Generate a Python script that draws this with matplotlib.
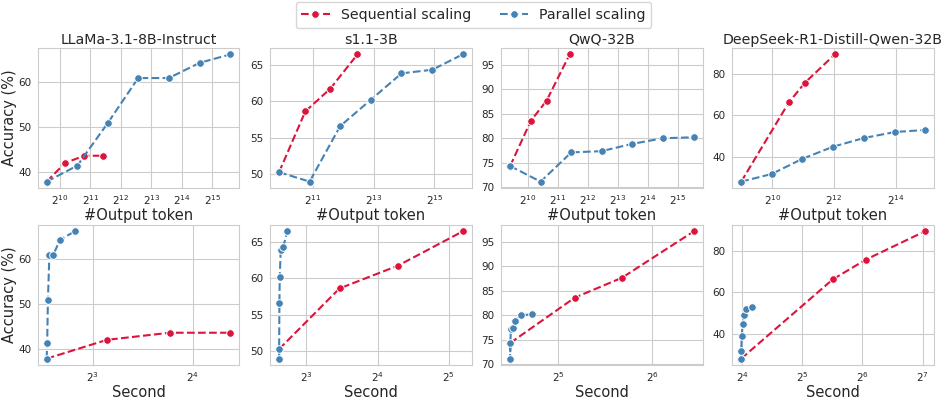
import matplotlib
matplotlib.use('Agg')
import matplotlib.pyplot as plt
import matplotlib.ticker as mticker
import seaborn as sns

sns.set_style('whitegrid')
plt.rcParams['font.family'] = ['DejaVu Sans']

models = ['LLaMa-3.1-8B-Instruct', 's1.1-3B', 'QwQ-32B', 'DeepSeek-R1-Distill-Qwen-32B']

# sequential scaling: tokens, seconds, accuracy
seq_tok = [[755, 1150, 1780, 2720],
           [945, 1722, 3040, 5670],
           [685, 1105, 1585, 2700],
           [509, 1489, 2135, 4180]]
seq_sec = [[5.81, 8.82, 13.65, 20.8],
           [6.13, 11.05, 19.5, 36.7],
           [22.5, 36.2, 51.3, 87.0],
           [15.8, 45.5, 66.5, 131.5]]
seq_acc = [[37.8, 42.0, 43.6, 43.6],
           [50.3, 58.6, 61.7, 66.4],
           [74.3, 83.6, 87.7, 97.2],
           [27.9, 66.3, 75.8, 89.5]]

# parallel scaling
par_tok = [[755, 1520, 3030, 6070, 12200, 24600, 49500],
           [945, 1897, 3822, 7700, 15500, 31400, 62800],
           [685, 1380, 2800, 5630, 11400, 23200, 47000],
           [509, 1010, 2006, 4010, 8020, 16040, 31640]]
par_sec = [[5.81, 5.83, 5.86, 5.92, 6.08, 6.37, 7.06],
           [6.13, 6.13, 6.15, 6.17, 6.23, 6.38, 6.65],
           [22.5, 22.5, 22.6, 22.9, 23.4, 24.4, 26.5],
           [15.8, 15.8, 15.9, 16.06, 16.3, 16.75, 17.8]]
par_acc = [[37.8, 41.4, 50.9, 61.0, 61.0, 64.4, 66.3],
           [50.3, 49.0, 56.6, 60.2, 63.8, 64.3, 66.4],
           [74.3, 71.1, 77.1, 77.35, 78.85, 80.0, 80.2],
           [27.9, 31.6, 38.9, 44.8, 49.0, 51.9, 52.9]]

tok_ticks = [[10, 11, 12, 13, 14, 15], [11, 13, 15], [10, 11, 12, 13, 14, 15], [10, 12, 14]]
sec_ticks = [[3, 4], [3, 4, 5], [5, 6], [4, 5, 6, 7]]
y_ticks = [[40, 50, 60], [50, 55, 60, 65], [70, 75, 80, 85, 90, 95], [40, 60, 80]]

red = '#DC143C'
blue = '#4682B4'
style = dict(linestyle='--', marker='o', markersize=5.5, linewidth=1.5,
             markeredgecolor='white', markeredgewidth=0.7)

fig = plt.figure(figsize=(9.47, 4.0), dpi=100)
lefts = [0.0396, 0.285, 0.529, 0.773]
w, h = 0.2133, 0.35

for i in range(4):
    for row in range(2):
        bottom = 0.53 if row == 0 else 0.0875
        ax = fig.add_axes([lefts[i], bottom, w, h])
        if row == 0:
            xs, xp, ticks, xlabel = seq_tok[i], par_tok[i], tok_ticks[i], '#Output token'
        else:
            xs, xp, ticks, xlabel = seq_sec[i], par_sec[i], sec_ticks[i], 'Second'
        l1, = ax.plot(xs, seq_acc[i], color=red, label='Sequential scaling', **style)
        l2, = ax.plot(xp, par_acc[i], color=blue, label='Parallel scaling', **style)
        ax.set_xscale('log', base=2)
        ax.xaxis.set_major_locator(mticker.FixedLocator([2 ** t for t in ticks]))
        ax.xaxis.set_major_formatter(mticker.FixedFormatter([f'$2^{{{t}}}$' for t in ticks]))
        ax.xaxis.set_minor_locator(mticker.NullLocator())
        ax.set_yticks(y_ticks[i])
        ax.tick_params(labelsize=7.5, pad=1)
        ax.tick_params(axis='x', pad=0.5)
        ax.set_xlabel(xlabel, fontsize=10.5, labelpad=0.5)
        if i == 0:
            ax.set_ylabel('Accuracy (%)', fontsize=10.5, labelpad=1)
        if row == 0:
            ax.set_title(models[i], fontsize=10.2, pad=3)

fig.legend([l1, l2], ['Sequential scaling', 'Parallel scaling'], loc='upper center',
           bbox_to_anchor=(0.5, 1.012), ncol=2, fontsize=10.2, frameon=True)

plt.savefig('out.png', dpi=100)
